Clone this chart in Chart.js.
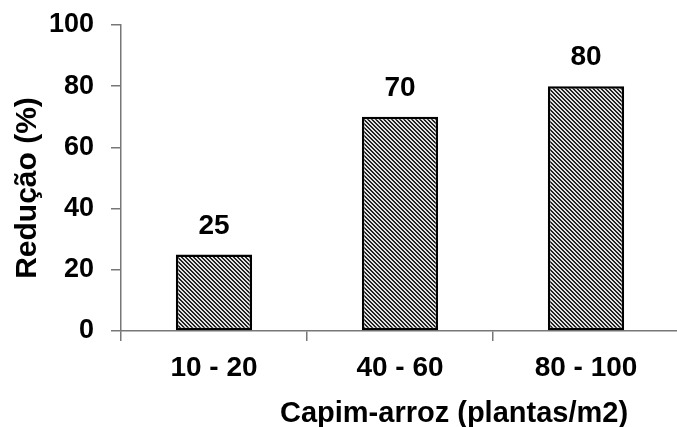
<!DOCTYPE html>
<html>
<head>
<meta charset="utf-8">
<script src="https://cdn.jsdelivr.net/npm/chart.js@4"></script>
<style>
    html, body { margin: 0; padding: 0; background: #fff; overflow: hidden; }
    #wrap { width: 700px; height: 427px; }
</style>
</head>
<body>
<div id="wrap"><canvas id="reducaoChart" width="700" height="427"></canvas></div>
<script>
// Data
const categories = ['10 - 20', '40 - 60', '80 - 100'];
const reducao = [25, 70, 80];
const yTicks = [0, 20, 40, 60, 80, 100];

const FONT = '"Liberation Sans", Arial, sans-serif';

// Hatch fill like the original (diagonal lines)
function makeHatch() {
    const c = document.createElement('canvas');
    c.width = 4;
    c.height = 4;
    const g = c.getContext('2d');
    const img = g.createImageData(4, 4);
    for (let y = 0; y < 4; y++) {
        for (let x = 0; x < 4; x++) {
            const d = ((x - y) % 4 + 4) % 4;
            const v = (d === 0 || d === 1) ? 35 : 225;
            const i = (y * 4 + x) * 4;
            img.data[i] = v;
            img.data[i + 1] = v;
            img.data[i + 2] = v;
            img.data[i + 3] = 255;
        }
    }
    g.putImageData(img, 0, 0);
    return g.createPattern(c, 'repeat');
}

// Value labels above bars
const valueLabels = {
    id: 'valueLabels',
    afterDatasetsDraw(chart) {
        const ctx = chart.ctx;
        const meta = chart.getDatasetMeta(0);
        ctx.save();
        ctx.font = 'bold 28px ' + FONT;
        ctx.fillStyle = '#000';
        ctx.textAlign = 'center';
        ctx.textBaseline = 'alphabetic';
        meta.data.forEach((bar, i) => {
            ctx.fillText(String(reducao[i]), bar.x, bar.y - 21);
        });
        ctx.restore();
    }
};

// Axis titles
const axisTitles = {
    id: 'axisTitles',
    afterDraw(chart) {
        const ctx = chart.ctx;
        ctx.save();
        ctx.fillStyle = '#000';
        ctx.textAlign = 'center';
        ctx.textBaseline = 'alphabetic';

        ctx.font = 'bold 29px ' + FONT;
        ctx.fillText('Capim-arroz (plantas/m2)', 454, 422);

        ctx.translate(36, 188);
        ctx.rotate(-Math.PI / 2);
        ctx.font = 'bold 30px ' + FONT;
        ctx.fillText('Redução (%)', 0, 0);
        ctx.restore();
    }
};

const ctx = document.getElementById('reducaoChart');
new Chart(ctx, {
    type: 'bar',
    data: {
        labels: categories,
        datasets: [{
            label: 'Redução',
            data: reducao,
            backgroundColor: makeHatch(),
            borderColor: '#000',
            borderWidth: 2.5,
            borderSkipped: false,
            barPercentage: 0.41,
            categoryPercentage: 1
        }]
    },
    options: {
        responsive: false,
        animation: false,
        layout: {
            padding: { top: 25, right: 21, bottom: 0, left: 0 }
        },
        plugins: {
            legend: { display: false },
            tooltip: { enabled: false }
        },
        scales: {
            x: {
                grid: {
                    drawOnChartArea: false,
                    color: '#777',
                    lineWidth: 1.5,
                    tickLength: 10,
                    offset: true
                },
                border: { color: '#777', width: 1.5 },
                ticks: {
                    color: '#000',
                    padding: 10,
                    font: { family: FONT, size: 28, weight: 'bold' }
                },
                afterFit(scale) {
                    scale.height = 96;
                    scale.paddingLeft = 0;
                    scale.paddingRight = 0;
                }
            },
            y: {
                min: 0,
                max: 100,
                afterBuildTicks(scale) {
                    scale.ticks = yTicks.map(v => ({ value: v }));
                },
                grid: {
                    drawOnChartArea: false,
                    color: '#777',
                    lineWidth: 1.5,
                    tickLength: 10
                },
                border: { color: '#777', width: 1.5 },
                ticks: {
                    color: '#000',
                    padding: 17,
                    font: { family: FONT, size: 27, weight: 'bold' }
                },
                afterFit(scale) {
                    scale.width = 121;
                    scale.paddingTop = 0;
                    scale.paddingBottom = 0;
                }
            }
        }
    },
    plugins: [valueLabels, axisTitles]
});
</script>
</body>
</html>
